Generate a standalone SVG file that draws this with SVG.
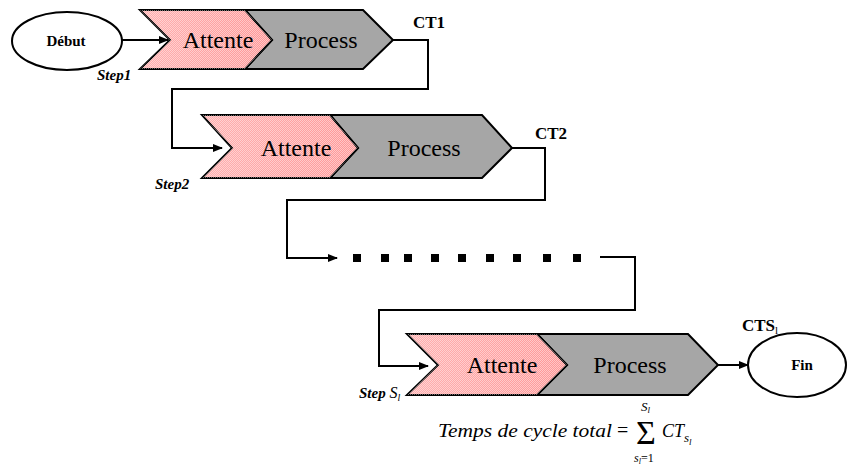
<svg xmlns="http://www.w3.org/2000/svg" width="848" height="465" viewBox="0 0 848 465" font-family="'Liberation Serif', 'Times New Roman', 'DejaVu Serif', serif">
<defs>
<linearGradient id="pinkGrad" x1="0" y1="0" x2="1" y2="0">
<stop offset="0" stop-color="#ffb0b0"/>
<stop offset="1" stop-color="#ff9696"/>
</linearGradient>
<pattern id="dots" width="2" height="2" patternUnits="userSpaceOnUse">
<rect x="0" y="0" width="1" height="1" fill="#ffffff" fill-opacity="0.45"/>
<rect x="1" y="1" width="1" height="1" fill="#ffffff" fill-opacity="0.45"/>
</pattern>
<marker id="arr" markerWidth="10" markerHeight="8" refX="9" refY="4" orient="auto" markerUnits="userSpaceOnUse">
<path d="M0,0 L10,4 L0,8 Z" fill="#000"/>
</marker>
</defs>
<style>
text{font-family:'Liberation Serif','Times New Roman','DejaVu Serif',serif}
.pink{fill:url(#pinkGrad);stroke:#000;stroke-width:2;stroke-linejoin:miter}
.dot{fill:url(#dots);stroke:none}
.gray{fill:#a6a6a6;stroke:#000;stroke-width:2;stroke-linejoin:miter}
.big{font-size:24px;fill:#000;text-anchor:middle}
.lbl{font-weight:bold;font-size:17px;fill:#000}
.term{font-weight:bold;font-size:15px;fill:#000;text-anchor:middle}
.step{font-weight:bold;font-style:italic;font-size:15px;fill:#000}
.math{font-style:italic;fill:#000}
.conn{fill:none;stroke:#000;stroke-width:2}
.ell{fill:#fff;stroke:#000;stroke-width:2}
</style>

<g id="debut">
<ellipse class="ell" cx="67" cy="41" rx="55" ry="29"/>
<text class="term" x="66" y="46">Début</text>
</g>

<g id="step1">
<polygon class="gray" points="245,10 363,10 393,40 363,69 245,69 272,40"/>
<polygon class="pink" points="140,10 245,10 272,40 245,69 140,69 170,40"/>
<polygon class="dot" points="140,10 245,10 272,40 245,69 140,69 170,40"/>
<text class="big" x="218" y="48">Attente</text>
<text class="big" x="321" y="48">Process</text>
<text class="step" x="97" y="80">Step1</text>
<text class="lbl" x="413" y="28">CT1</text>
</g>

<g id="step2">
<polygon class="gray" points="330,115 482,115 512,148 482,178 330,178 358,148"/>
<polygon class="pink" points="202,115 330,115 358,148 330,178 202,178 232,148"/>
<polygon class="dot" points="202,115 330,115 358,148 330,178 202,178 232,148"/>
<text class="big" x="296" y="156">Attente</text>
<text class="big" x="424" y="156">Process</text>
<text class="step" x="155" y="189">Step2</text>
<text class="lbl" x="535" y="139">CT2</text>
</g>

<g id="ellipsis">
<rect x="353" y="254" width="8" height="8" fill="#000"/>
<rect x="381" y="254" width="8" height="8" fill="#000"/>
<rect x="404" y="254" width="8" height="8" fill="#000"/>
<rect x="431" y="254" width="8" height="8" fill="#000"/>
<rect x="458" y="254" width="8" height="8" fill="#000"/>
<rect x="486" y="254" width="8" height="8" fill="#000"/>
<rect x="513" y="254" width="8" height="8" fill="#000"/>
<rect x="543" y="254" width="8" height="8" fill="#000"/>
<rect x="573" y="254" width="8" height="8" fill="#000"/>
</g>

<g id="stepSl">
<polygon class="gray" points="537,334 688,334 718,365 688,395 537,395 567,365"/>
<polygon class="pink" points="407,334 537,334 567,365 537,395 407,395 438,365"/>
<polygon class="dot" points="407,334 537,334 567,365 537,395 407,395 438,365"/>
<text class="big" x="502" y="373">Attente</text>
<text class="big" x="630" y="373">Process</text>
<text x="359" y="398"><tspan class="step">Step </tspan><tspan class="math" font-size="16px">S</tspan><tspan class="math" font-size="10px" dy="3">l</tspan></text>
<text x="742" y="331"><tspan class="lbl">CTS</tspan><tspan font-size="11px" fill="#000" dy="3">l</tspan></text>
</g>

<g id="fin">
<ellipse class="ell" cx="797" cy="365" rx="49" ry="32"/>
<text class="term" x="802" y="370">Fin</text>
</g>

<g id="formula">
<text class="math" x="438" y="437" font-size="18px" textLength="174" lengthAdjust="spacingAndGlyphs">Temps de cycle total</text>
<text x="617" y="437" font-size="20px" fill="#000">=</text>
<text x="636" y="444" font-size="34px" fill="#000">Σ</text>
<text x="641" y="411"><tspan class="math" font-size="13px">S</tspan><tspan class="math" font-size="9px" dy="2">l</tspan></text>
<text x="634" y="462"><tspan class="math" font-size="12px">s</tspan><tspan class="math" font-size="8px" dy="2">l</tspan><tspan font-size="12px" dy="-2" fill="#000">=1</tspan></text>
<text x="662" y="437"><tspan class="math" font-size="18px">CT</tspan><tspan class="math" font-size="13px" dy="5">s</tspan><tspan class="math" font-size="9px" dy="3">l</tspan></text>
</g>

<g id="connectors">
<line class="conn" x1="122" y1="40" x2="168" y2="40" marker-end="url(#arr)"/>
<polyline class="conn" points="393,40 428,40 428,89 172,89 172,148 222,148" marker-end="url(#arr)"/>
<polyline class="conn" points="512,148 545,148 545,200 287,200 287,258 337,258" marker-end="url(#arr)"/>
<polyline class="conn" points="600,257 635,257 635,310 379,310 379,366 428,366" marker-end="url(#arr)"/>
<line class="conn" x1="718" y1="365" x2="748" y2="365" marker-end="url(#arr)"/>
</g>
</svg>
